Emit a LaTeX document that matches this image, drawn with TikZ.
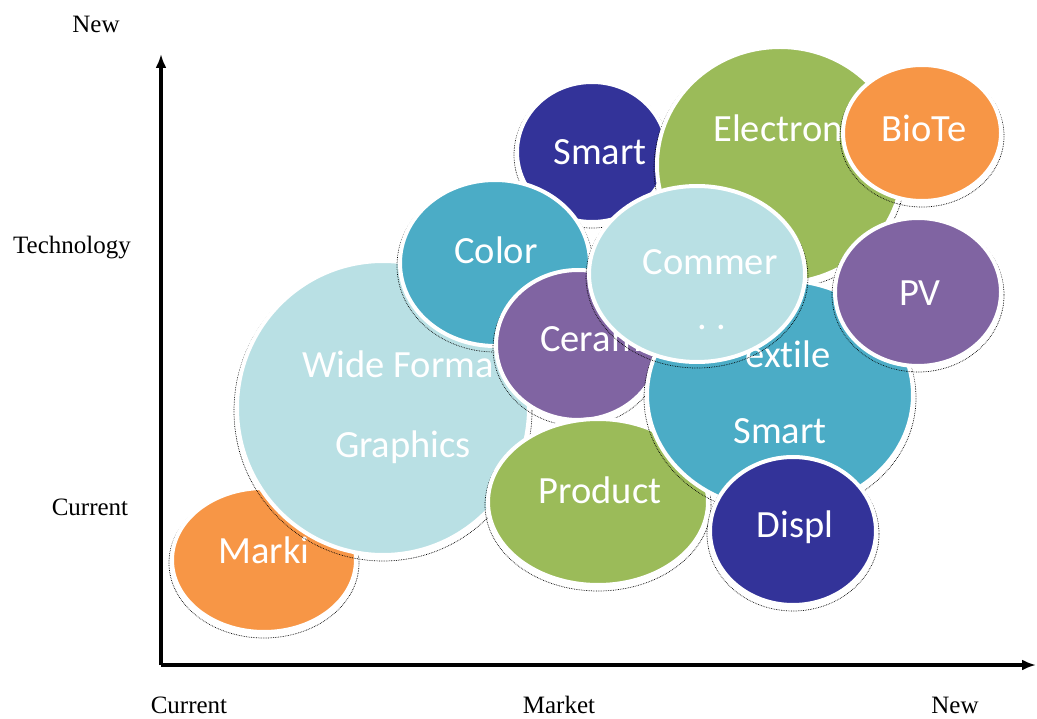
\documentclass[tikz,border=0pt]{standalone}
\usepackage{fontspec}
\newfontfamily\bubblefont[Ligatures=NoCommon]{Carlito}
\newfontfamily\axisfont{Liberation Serif}
\usepackage{tikz}
\usetikzlibrary{shapes.geometric}
\usetikzlibrary{arrows.meta}
\definecolor{paleblue}{HTML}{B9E0E4}
\definecolor{teal}{HTML}{4BACC6}
\definecolor{navy}{HTML}{333399}
\definecolor{leaf}{HTML}{9BBB59}
\definecolor{tangerine}{HTML}{F79646}
\definecolor{plum}{HTML}{8064A2}

\begin{document}
\begin{tikzpicture}[
                x = 1pt, y = -1pt,
                bubble/.style = {ellipse, draw = white, line width = 4pt,
                                 inner sep = 0pt},
                bshadow/.style = {draw = black, densely dotted, line width = 0.7pt},
                word/.style = {text = white, anchor = base, inner sep = 0pt,
                               font = \bubblefont\fontsize{38.5}{40}\selectfont},
                axislabel/.style = {font = \axisfont\fontsize{25}{28}\selectfont,
                                    inner sep = 0pt},
                axis/.style = {line width = 4.5pt, -{Latex[length = 14pt, width = 11pt]}}
                ]
              \useasboundingbox (0,0) rectangle (1037,719);

              % Bubbles, back to front
              \draw[bshadow] (264,563) ellipse [x radius = 95, y radius = 75];
              \node[bubble, fill = tangerine, minimum width = 184, minimum height = 144] (marki) at (264,560) {};
              \node[word] (marki-t) at (264,563) {Marki};

              \draw[bshadow] (383,411) ellipse [x radius = 149, y radius = 150];
              \node[bubble, fill = paleblue, minimum width = 292, minimum height = 294] (wide) at (383,408) {};
              \node[word] (wide-a) at (398,378) {Wide Forma};
              \node[word] (wide-b) at (403,457) {Graphics};

              \draw[bshadow] (592,155) ellipse [x radius = 78, y radius = 73];
              \node[bubble, fill = navy, minimum width = 150, minimum height = 140] (smart) at (592,152) {};
              \node[word] (smart-t) at (600,165) {Smart};

              \draw[bshadow] (495,266) ellipse [x radius = 98, y radius = 86];
              \node[bubble, fill = teal, minimum width = 190, minimum height = 166] (color) at (495,263) {};
              \node[word] (color-t) at (496,264) {Color};

              \draw[bshadow] (780,168) ellipse [x radius = 126, y radius = 121];
              \node[bubble, fill = leaf, minimum width = 246, minimum height = 236] (elec) at (780,165) {};
              \node[word] (elec-t) at (778,142) {Electron};

              \draw[bshadow] (922,136) ellipse [x radius = 82, y radius = 71];
              \node[bubble, fill = tangerine, minimum width = 158, minimum height = 136] (biote) at (922,133) {};
              \node[word] (biote-t) at (924,142) {BioTe};

              \draw[bshadow] (578,348) ellipse [x radius = 85, y radius = 78];
              \node[bubble, fill = plum, minimum width = 164, minimum height = 150] (ceram) at (578,345) {};
              \node[word] (ceram-t) at (591,352) {Ceram};

              \draw[bshadow] (598,505) ellipse [x radius = 113, y radius = 86];
              \node[bubble, fill = leaf, minimum width = 220, minimum height = 166] (product) at (598,502) {};
              \node[word] (product-t) at (600,503) {Product};

              \draw[bshadow] (780,398) ellipse [x radius = 136, y radius = 118];
              \node[bubble, fill = teal, minimum width = 266, minimum height = 230] (textile) at (780,395) {};
              \node[word] (textile-a) at (788,368) {extile};
              \node[word] (textile-b) at (780,443) {Smart};

              \draw[bshadow] (697,277) ellipse [x radius = 111, y radius = 91];
              \node[bubble, fill = paleblue, minimum width = 216, minimum height = 176] (commer) at (697,274) {};
              \node[word] (commer-a) at (710,275) {Commer};
              \node[word] (commer-b) at (712,330) {.\ .};

              \draw[bshadow] (918,295) ellipse [x radius = 86, y radius = 77];
              \node[bubble, fill = plum, minimum width = 166, minimum height = 148] (pv) at (918,292) {};
              \node[word] (pv-t) at (920,306) {PV};

              \draw[bshadow] (793,534) ellipse [x radius = 86, y radius = 77];
              \node[bubble, fill = navy, minimum width = 166, minimum height = 148] (displ) at (793,531) {};
              \node[word] (displ-t) at (795,537) {Displ};

              % Axes
              \coordinate (origin) at (161,665);
              \coordinate (top) at (161,54);
              \coordinate (right) at (1036,665);
              \draw[axis] (origin) -- (top);
              \draw[axis] (origin) -- (right);

              % Labels
              \begin{scope}[nodes = {axislabel}]
                \node (tech-new) at (96,24) {New};
                \node (tech) at (72,248) {Technology};
                \node (tech-cur) at (90,507) {Current};
                \node (mkt-cur) at (189,705) {Current};
                \node (mkt) at (559,705) {Market};
                \node (mkt-new) at (955,705) {New};
              \end{scope}
            \end{tikzpicture}
\end{document}
